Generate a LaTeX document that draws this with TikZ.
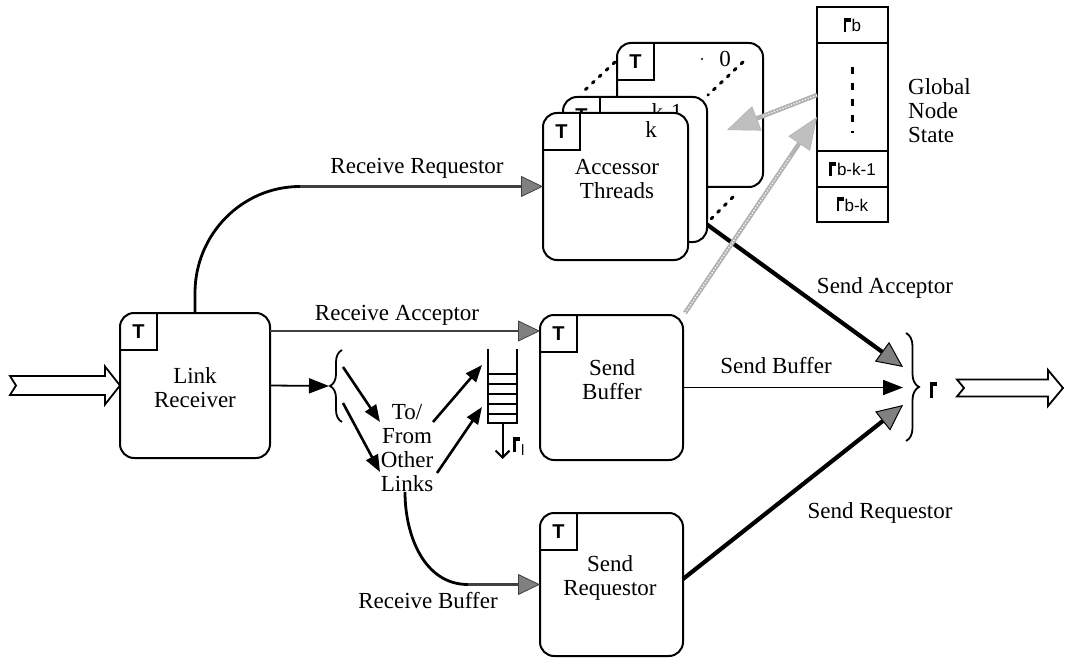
\documentclass[tikz,border=0pt]{standalone}
\usepackage{fontspec}
\setmainfont{Liberation Serif}
\setsansfont{Liberation Sans}
\usetikzlibrary{arrows.meta,decorations.pathreplacing,calc}
\newcommand\flg[1][14pt]{\rule{2.4pt}{#1}\raisebox{\dimexpr#1-3.6pt\relax}{\rule{4.6pt}{3.6pt}}\kern0.8pt}
\newcommand\tbox[5]{%
  \node[box,minimum width=#4,minimum height=#5] (#1) at (#2,#3) {};
  \draw[line width=2pt] ([yshift=-37pt]#1.north west) -| ([xshift=37pt]#1.north west);
  \node[tlab] at ([xshift=18.5pt,yshift=-19pt]#1.north west) {T};}
\begin{document}
\begin{tikzpicture}[x=1pt,y=-1pt,
  box/.style={draw,line width=2pt,rounded corners=14pt,fill=white,anchor=north west,inner sep=0pt,outer sep=0pt},
  lbl/.style={font=\fontsize{23}{24}\selectfont,align=center,inner sep=0pt},
  tlab/.style={font=\sffamily\bfseries\fontsize{20}{20}\selectfont,inner sep=0pt},
  cell/.style={draw,line width=2pt,anchor=north west,inner sep=0pt,outer sep=0pt,font=\sffamily\fontsize{17}{17}\selectfont},
  thinarr/.style={line width=1.8pt,-{Triangle[length=20pt,width=15pt]}},
  blkarr/.style={line width=2.6pt,-{Triangle[length=17pt,width=13pt]}},
  pat/.style={line width=2.3pt,black!75},
  pattip/.style={-{Triangle[length=22pt,width=21pt,fill=black!50,line width=0.8pt]}},
  heavy/.style={line width=4.2pt,-{Triangle[length=26pt,width=24pt,fill=black!50,line width=1pt]}},
  curv/.style={line width=2.8pt},
  greyarr/.style={line width=4.5pt,gray!60,-{Triangle[length=32pt,width=26pt,fill=gray!50,line width=0.5pt]}},
  greytex/.style={line width=1.2pt,white,dash pattern=on 1.2pt off 1.8pt},
  persp/.style={line width=3pt,dash pattern=on 2.5pt off 7pt,line cap=round},
  hollow/.style={line width=1.8pt,fill=white,line join=miter},
  bracest/.style={line width=1.8pt,decorate,decoration={brace,amplitude=12pt}}
]
\useasboundingbox (0,0) rectangle (1066,658);

% ---- boxes
\tbox{lr}{120}{313}{150}{145}
\node[lbl] (lrt) at (195,388) {Link\\Receiver};

\tbox{acc0}{617}{43}{146}{144}
\node[lbl] (zero) at (725,59) {0};
\fill (702,59) circle (1.2pt);
\draw[persp] (615,62) -- (585,90);
\draw[persp] (743,62) -- (708,95);
\draw[persp] (733,197) -- (710,220);

\tbox{acck}{563}{97}{144}{145}
\node[lbl,anchor=base] (km1) at (667,120) {k-1};

\tbox{acc}{543}{113}{145}{147}
\node[lbl] (kk) at (651,130) {k};
\node[lbl] (acct) at (617,179) {Accessor\\Threads};

\tbox{sb}{540}{315}{143}{145}
\node[lbl] (sbt) at (612,380) {Send\\Buffer};

\tbox{sr}{540}{513}{143}{143}
\node[lbl] (srt) at (610,578) {Send\\Requestor};

% ---- global node state
\node[cell,minimum width=71,minimum height=36] (g1) at (817,7) {\flg b};
\node[cell,minimum width=71,minimum height=108] (g2) at (817,43) {};
\node[cell,minimum width=71,minimum height=36] (g3) at (817,151) {\flg b-k-1};
\node[cell,minimum width=71,minimum height=35] (g4) at (817,187) {\flg b-k};
\draw[line width=2.6pt,dash pattern=on 7pt off 9pt] ($(g2.north)+(0,24)$) -- ($(g2.south)+(0,-18)$);
\node[lbl,align=left,anchor=west] (gnsl) at (908,111) {Global\\Node\\State};

% ---- input / output hollow arrows
\coordinate (inT) at (10,385.5);
\draw[hollow] ($(inT)+(0,-9.5)$) -- ($(lr.west)+(-15,-9.5)$) -- ($(lr.west)+(-15,-19)$) -- (lr.west)
  -- ($(lr.west)+(-15,19)$) -- ($(lr.west)+(-15,9.5)$) -- ($(inT)+(0,9.5)$) -- ($(inT)+(6,0)$) -- cycle;
\coordinate (outT) at (957,388);
\coordinate (outH) at (1063,388);
\draw[hollow] ($(outT)+(0,-8.5)$) -- ($(outH)+(-15,-8.5)$) -- ($(outH)+(-15,-18)$) -- (outH)
  -- ($(outH)+(-15,18)$) -- ($(outH)+(-15,8.5)$) -- ($(outT)+(0,8.5)$) -- ($(outT)+(7,0)$) -- cycle;

% ---- braces
\draw[bracest] (342,422) -- (342,350);
\coordinate (bL) at (329,386);
\draw[bracest,decoration={brace,amplitude=13pt}] (906,333) -- (906,441);
\coordinate (bRa) at (903,367);
\coordinate (bRb) at (903,387.5);
\coordinate (bRc) at (903,405);
\node[inner sep=0pt] (oflag) at (934,390) {\flg[16pt]};

% ---- link receiver outputs
\draw[thinarr] (lr.east) -- (bL);
\coordinate (rrk) at (300,186.5);
\draw[curv] (lr.north) -- ++(0,-20) to[out=90,in=180] (rrk);
\draw[pat,pattip] (rrk) -- (acc.west);
\node[lbl,anchor=base] (rrl) at (417,174) {Receive Requestor};
\draw[pat,pattip] ([yshift=-18pt]lr.north east) -- ([yshift=-16pt]sb.north west);
\node[lbl,anchor=base] (ral) at (397,320) {Receive Acceptor};

% ---- to / from other links
\node[lbl,align=center] (tofrom) at (407,448) {To/\\From\\Other\\Links};
\coordinate (b1) at (343,367);
\coordinate (b2) at (343,403);
\coordinate (t1) at (380,422);
\coordinate (t2) at (380,472);
\draw[blkarr] (b1) -- (t1);
\draw[blkarr] (b2) -- (t2);
\coordinate (t3) at (433,422);
\coordinate (t4) at (437,473);
\coordinate (q1) at (482,365);
\coordinate (q2) at (482,407);
\draw[blkarr] (t3) -- (q1);
\draw[blkarr] (t4) -- (q2);

% ---- queue
\draw[line width=2pt] (488,349) -- (488,423) -- (517,423) -- (517,349);
\foreach \yy in {374,384,394,404,414} \draw[line width=2pt] (488,\yy) -- (517,\yy);
\coordinate (qb) at (502.5,423);
\coordinate (qe) at (502.5,459);
\draw[line width=2pt,-{Straight Barb[length=7pt,width=14pt,line width=2pt]}] (qb) -- (qe);
\node[inner sep=0pt,anchor=west] (qlab) at (513,446) {\flg[15pt]\raisebox{-3pt}{\sffamily\fontsize{15}{15}\selectfont l}};

% ---- receive buffer
\coordinate (rbk) at (468,584.5);
\draw[curv] ([xshift=-2pt]tofrom.south) to[out=-90,in=180] (rbk);
\draw[pat,pattip] (rbk) -- (sr.west);
\node[lbl,anchor=base] (rbl) at (428,608) {Receive Buffer};

% ---- send side
\draw[heavy] ([yshift=-55pt]acck.east) -- (bRa);
\node[lbl,anchor=base] (sal) at (885,293) {Send Acceptor};
\draw[thinarr] (sb.east) -- (bRb);
\node[lbl,anchor=base] (sbl) at (776,373) {Send Buffer};
\draw[heavy] ([yshift=5.5pt]sr.east) -- (bRc);
\node[lbl,anchor=base] (srl) at (880,518) {Send Requestor};

% ---- grey state arrows
\coordinate (gtip) at (727,130);
\coordinate (gs1) at ([yshift=2pt]g2.west);
\coordinate (gs2) at ([xshift=2pt,yshift=2pt]sb.north east);
\coordinate (ge2) at ([yshift=-20pt]g2.west);
\draw[greyarr] (gs1) -- (gtip);
\draw[greyarr] (gs2) -- (ge2);
\draw[greytex] (gs1) -- ($(gs1)!0.62!(gtip)$);
\draw[greytex] (gs2) -- ($(gs2)!0.8!(ge2)$);
\end{tikzpicture}
\end{document}
